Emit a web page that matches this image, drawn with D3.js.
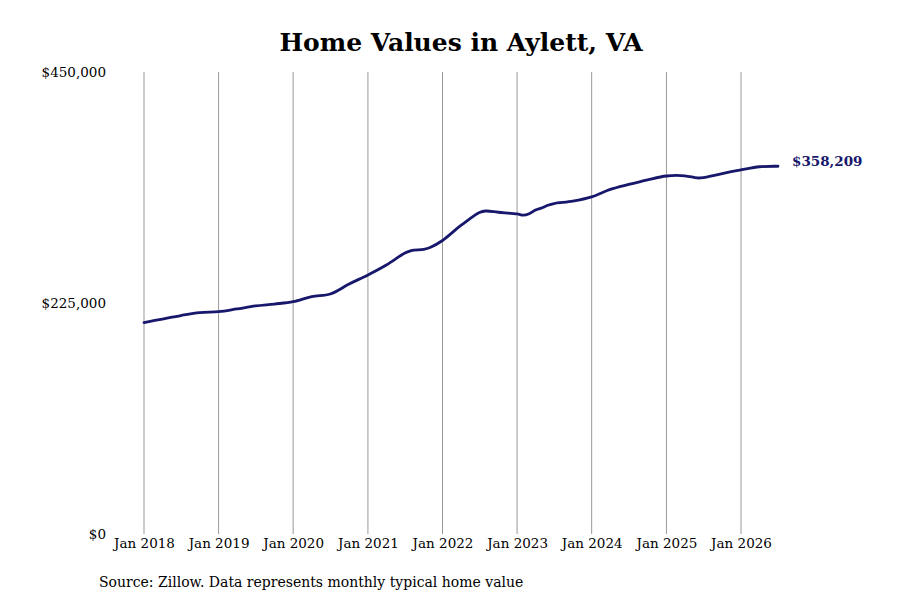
<!DOCTYPE html>
<html>
<head>
<meta charset="utf-8">
<script src="https://cdn.jsdelivr.net/npm/d3@7"></script>
<style>
  body { margin: 0; background: #fff; }
  text { font-family: "DejaVu Serif", serif; }
</style>
</head>
<body>
<div id="chart"></div>
<script>
// Data (typical home value, USD)
const dates = [
  "2018-01", "2018-04", "2018-07", "2018-10", "2019-01", "2019-04", "2019-07", "2019-10",
  "2020-01", "2020-04", "2020-07", "2020-10", "2021-01", "2021-04", "2021-07", "2021-08",
  "2021-10", "2021-11", "2022-01", "2022-04", "2022-07", "2022-08", "2022-10", "2023-01",
  "2023-02", "2023-03", "2023-04", "2023-05", "2023-06", "2023-07", "2023-10",
  "2024-01", "2024-04", "2024-07", "2024-10",
  "2025-01", "2025-04", "2025-06", "2025-07", "2025-10", "2026-01", "2026-04", "2026-07"
];
const values = [
  206000, 209400, 212800, 215600, 216500, 219200, 222100, 224000,
  226300, 231300, 233800, 243500, 252300, 262000, 273700, 276100,
  277300, 279000, 285900, 300500, 313200, 314600, 313400, 311700,
  310500, 312000, 315600, 317500, 320200, 321900, 324200,
  328300, 335600, 340500, 345000,
  348700, 348900, 346800, 347200, 351100, 354600, 357700, 358209
];
const yTicks = [0, 225000, 450000];
const xTickYears = [2018, 2019, 2020, 2021, 2022, 2023, 2024, 2025, 2026];

const width = 900, height = 600;
const margin = { top: 72, right: 122, bottom: 66, left: 144 };

const parse = d3.timeParse("%Y-%m");
const data = dates.map((d, i) => ({ date: parse(d), value: values[i] }));

const svg = d3.select("#chart").append("svg")
    .attr("width", width)
    .attr("height", height);

const x = d3.scaleTime()
    .domain([parse("2018-01"), parse("2026-07")])
    .range([margin.left, width - margin.right]);

const y = d3.scaleLinear()
    .domain([0, 450000])
    .range([height - margin.bottom, margin.top]);

// title
svg.append("text")
    .attr("x", 461)
    .attr("y", 51)
    .attr("text-anchor", "middle")
    .style("font-size", "25px")
    .style("font-weight", "bold")
    .text("Home Values in Aylett, VA");

// vertical grid lines, one per January
const xTicks = xTickYears.map(yr => new Date(yr, 0, 1));
svg.append("g")
  .selectAll("line")
  .data(xTicks)
  .join("line")
    .attr("x1", d => x(d))
    .attr("x2", d => x(d))
    .attr("y1", y(450000))
    .attr("y2", y(0))
    .attr("stroke", "#999")
    .attr("stroke-width", 1);

// x axis labels
const xAxis = d3.axisBottom(x)
    .tickValues(xTicks)
    .tickFormat(d3.timeFormat("%b %Y"))
    .tickSize(0)
    .tickPadding(4);
const gx = svg.append("g")
    .attr("transform", `translate(0,${y(0)})`)
    .call(xAxis);
gx.select(".domain").remove();
gx.selectAll("text")
    .style("font-family", "DejaVu Serif")
    .style("font-size", "13.5px")
    .attr("fill", "#000");

// y axis labels
const yAxis = d3.axisLeft(y)
    .tickValues(yTicks)
    .tickFormat(d => "$" + d3.format(",")(d))
    .tickSize(0)
    .tickPadding(38);
const gy = svg.append("g")
    .attr("transform", `translate(${margin.left},0)`)
    .call(yAxis);
gy.select(".domain").remove();
gy.selectAll("text")
    .style("font-family", "DejaVu Serif")
    .style("font-size", "13.5px")
    .attr("fill", "#000");

// the line
const line = d3.line()
    .x(d => x(d.date))
    .y(d => y(d.value))
    .curve(d3.curveCatmullRom.alpha(0.5));

svg.append("path")
    .datum(data)
    .attr("fill", "none")
    .attr("stroke", "#17176b")
    .attr("stroke-width", 2.8)
    .attr("stroke-linejoin", "round")
    .attr("stroke-linecap", "round")
    .attr("d", line);

// end value label
const last = data[data.length - 1];
svg.append("text")
    .attr("x", x(last.date) + 14)
    .attr("y", y(last.value) - 5)
    .attr("dy", "0.35em")
    .style("font-size", "13.5px")
    .style("font-weight", "bold")
    .attr("fill", "#17176b")
    .text("$" + d3.format(",")(last.value));

// source note
svg.append("text")
    .attr("x", 99)
    .attr("y", 587)
    .style("font-size", "14px")
    .text("Source: Zillow. Data represents monthly typical home value");
</script>
</body>
</html>
